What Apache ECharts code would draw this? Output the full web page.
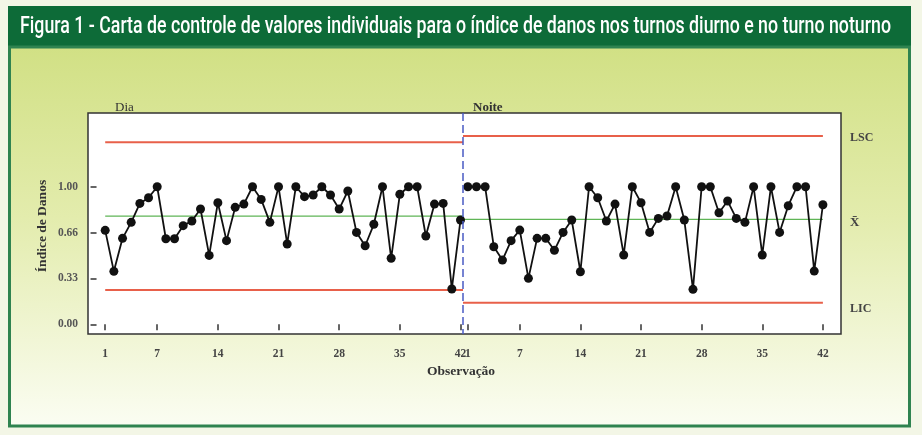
<!DOCTYPE html>
<html><head><meta charset="utf-8">
<script src="https://cdn.jsdelivr.net/npm/echarts@6/dist/echarts.min.js"></script>
<style>html,body{margin:0;padding:0;background:#f3f6e6}#c{width:922px;height:435px}</style>
</head><body><div id="c"></div><script>
// ---- data ----
const titleText = 'Figura 1 - Carta de controle de valores individuais para o índice de danos nos turnos diurno e no turno noturno';
const stageNames = ['Dia', 'Noite'];
const dayValues = [0.683,0.385,0.625,0.741,0.879,0.920,1.00,0.622,0.622,0.717,0.751,0.838,0.501,0.884,0.608,0.850,0.874,1.00,0.908,0.741,1.00,0.584,1.00,0.928,0.940,1.00,0.940,0.838,0.969,0.668,0.571,0.727,1.00,0.480,0.945,1.00,1.00,0.642,0.874,0.879,0.257,0.758];
const nightValues = [1.00,1.00,1.00,0.564,0.467,0.608,0.685,0.334,0.625,0.625,0.538,0.668,0.758,0.382,1.00,0.920,0.751,0.874,0.504,1.00,0.884,0.668,0.770,0.787,1.00,0.758,0.254,1.00,1.00,0.811,0.896,0.770,0.741,1.00,0.504,1.00,0.668,0.862,1.00,1.00,0.387,0.869];
const dayLimits = [1.323, 0.786, 0.249];   // LSC, X̄, LIC
const nightLimits = [1.368, 0.763, 0.157];
const limitNames = ['LSC', 'X\u0304', 'LIC'];
const xTicks = [1, 7, 14, 21, 28, 35, 42];
const yTicks = [0, 1/3, 2/3, 1];
const yTickLabels = ['0.00', '0.33', '0.66', '1.00'];

// ---- layout ----
const PL = 88, PR = 841, PT = 113, PB = 334, SPLIT = 463;
const dayMin = -0.985, dayMax = 42.29, nightMin = 0.446, nightMax = 44.09;
const yMin = -0.0705, yMax = 1.536;
const RED = '#e8604a', GREEN = '#5fb556', SERIF = '"Liberation Serif","DejaVu Serif",serif';

const chart = echarts.init(document.getElementById('c'));

// title scale to fit
const cv = document.createElement('canvas').getContext('2d');
const titleFont = '500 23px Roboto';
cv.font = titleFont;
const titleScale = 871 / cv.measureText(titleText).width;

function limitSeries(xi, xs, xe, v, color, w) {
  return {type: 'line', xAxisIndex: xi, yAxisIndex: xi, data: [[xs, v], [xe, v]], symbol: 'none',
    lineStyle: {color: color, width: w}, silent: true, z: 1, animation: false};
}
function dataSeries(xi, vals) {
  return {type: 'line', xAxisIndex: xi, yAxisIndex: xi, data: vals.map((v, i) => [i + 1, v]),
    symbol: 'circle', symbolSize: 9, itemStyle: {color: '#111'}, lineStyle: {color: '#111', width: 1.8},
    z: 5, animation: false};
}
const xAxisCommon = {
  type: 'value', axisLine: {show: false}, splitLine: {show: false},
  axisTick: {show: true, inside: false, length: 6, lineStyle: {color: '#333', width: 1.5}, customValues: xTicks},
  axisLabel: {customValues: xTicks, color: '#444', fontFamily: SERIF, fontWeight: 'bold', fontSize: 11.5, margin: 14}
};
const labelFor = v => { let b = 0; yTicks.forEach((t, i) => { if (Math.abs(t - v) < Math.abs(yTicks[b] - v)) b = i; }); return yTickLabels[b]; };

const option = {
  backgroundColor: '#f3f6e6',
  animation: false,
  grid: [
    {left: PL, top: PT, width: SPLIT - PL, height: PB - PT, show: false},
    {left: SPLIT, top: PT, width: PR - SPLIT, height: PB - PT, show: false}
  ],
  xAxis: [
    Object.assign({gridIndex: 0, min: dayMin, max: dayMax}, xAxisCommon),
    Object.assign({gridIndex: 1, min: nightMin, max: nightMax}, xAxisCommon)
  ],
  yAxis: [
    {gridIndex: 0, type: 'value', min: yMin, max: yMax, axisLine: {show: false}, splitLine: {show: false},
     axisTick: {show: true, inside: false, length: 6, lineStyle: {color: '#333', width: 1.5}, customValues: yTicks},
     axisLabel: {customValues: yTicks, formatter: labelFor, color: '#555', fontFamily: SERIF, fontWeight: 'bold', fontSize: 11.5, margin: 10}},
    {gridIndex: 1, type: 'value', min: yMin, max: yMax, show: false}
  ],
  series: [
    limitSeries(0, 1, dayMax, dayLimits[0], RED, 2),
    limitSeries(0, 1, dayMax, dayLimits[1], GREEN, 1.2),
    limitSeries(0, 1, dayMax, dayLimits[2], RED, 2),
    limitSeries(1, nightMin, 42, nightLimits[0], RED, 2),
    limitSeries(1, nightMin, 42, nightLimits[1], GREEN, 1.2),
    limitSeries(1, nightMin, 42, nightLimits[2], RED, 2),
    dataSeries(0, dayValues),
    dataSeries(1, nightValues)
  ],
  graphic: [
    {type: 'rect', z: -100, shape: {x: 8, y: 6, width: 903, height: 42}, style: {fill: '#0d6b38'}},
    {type: 'rect', z: -100, shape: {x: 9.5, y: 47, width: 900, height: 379},
     style: {stroke: '#2f8350', lineWidth: 3,
       fill: new echarts.graphic.LinearGradient(0, 0, 0, 1, [
         {offset: 0, color: '#d1e084'}, {offset: 0.45, color: '#e3ecad'}, {offset: 1, color: '#fbfdf3'}])}},
    {type: 'rect', z: -90, shape: {x: PL, y: PT, width: PR - PL, height: PB - PT}, style: {fill: '#ffffff'}},
    {type: 'rect', z: 100, shape: {x: PL, y: PT, width: PR - PL, height: PB - PT}, style: {fill: 'none', stroke: '#333', lineWidth: 1.5}},
    {type: 'line', z: 100, shape: {x1: SPLIT, y1: PT, x2: SPLIT, y2: PB}, style: {stroke: '#4a5bc4', lineWidth: 1.5, lineDash: [8, 4]}},
    {type: 'text', z: 100, x: 20, y: 27, scaleX: titleScale,
     style: {text: titleText, font: titleFont, fill: '#ffffff', verticalAlign: 'middle'}},
    {type: 'text', z: 100, x: 115, y: 114, style: {text: stageNames[0], font: '13px ' + SERIF, fill: '#333', verticalAlign: 'bottom'}},
    {type: 'text', z: 100, x: 473, y: 114, style: {text: stageNames[1], font: 'bold 13px ' + SERIF, fill: '#333', verticalAlign: 'bottom'}},
    {type: 'text', z: 100, x: 850, y: 138, style: {text: limitNames[0], font: 'bold 12px ' + SERIF, fill: '#444', verticalAlign: 'middle'}},
    {type: 'text', z: 100, x: 850, y: 223, style: {text: limitNames[1], font: 'bold 13px ' + SERIF, fill: '#444', verticalAlign: 'middle'}},
    {type: 'text', z: 100, x: 850, y: 309, style: {text: limitNames[2], font: 'bold 12px ' + SERIF, fill: '#444', verticalAlign: 'middle'}},
    {type: 'text', z: 100, x: 461, y: 372, style: {text: 'Observação', font: 'bold 13.5px ' + SERIF, fill: '#333', align: 'center', verticalAlign: 'middle'}},
    {type: 'text', z: 100, x: 43, y: 226, rotation: Math.PI / 2, style: {text: 'Índice de Danos', font: 'bold 13.5px ' + SERIF, fill: '#333', align: 'center', verticalAlign: 'middle'}}
  ]
};
chart.setOption(option);
</script></body></html>
